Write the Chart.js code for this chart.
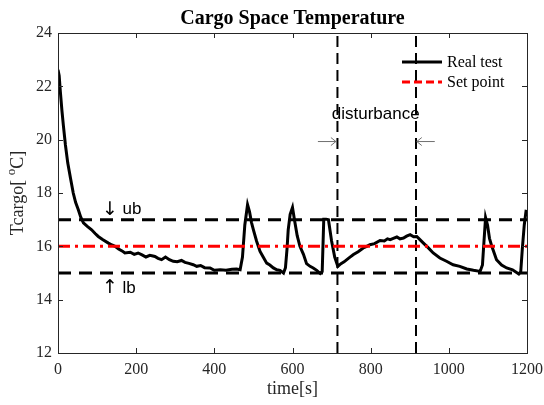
<!DOCTYPE html>
<html>
<head>
<meta charset="utf-8">
<script src="https://cdn.jsdelivr.net/npm/chart.js@4.4.1/dist/chart.umd.min.js"></script>
<style>
  html, body { margin: 0; padding: 0; background: #fff; }
  #wrap { width: 544px; height: 405px; }
</style>
</head>
<body>
<div id="wrap"><canvas id="cargo"></canvas></div>
<script>
var timeSec = [0, 3, 6, 10, 14, 19, 25, 32, 39, 45, 52, 58, 65, 75, 86, 95, 103, 115, 129, 138,
  146, 155, 165, 171, 185, 195, 205, 215, 225, 235, 248, 256, 265, 275, 285, 295, 305, 316, 325, 335,
  346, 355, 365, 375, 389, 400, 415, 430, 445, 457, 466, 472, 478, 485, 490, 495, 500, 508, 517, 525,
  534, 542, 551, 560, 568, 577, 582, 586, 589, 594, 600, 605, 612, 619, 628, 636, 645, 653, 662, 671,
  676, 680, 686, 692, 700, 708, 716, 724, 732, 743, 756, 768, 781, 790, 798, 810, 824, 835, 843, 850,
  858, 867, 875, 884, 892, 901, 910, 918, 926, 935, 947, 960, 977, 994, 1011, 1028, 1046, 1063, 1080, 1086,
  1090, 1094, 1099, 1104, 1110, 1116, 1122, 1135, 1148, 1163, 1179, 1184, 1188, 1193, 1198];
var tempC = [22.62, 22.4, 21.8, 21.1, 20.5, 19.8, 19.12, 18.55, 18.0, 17.65, 17.37, 17.1, 16.88, 16.75, 16.62, 16.48, 16.37, 16.25, 16.12, 16.05,
  16.0, 15.9, 15.82, 15.75, 15.78, 15.7, 15.75, 15.68, 15.6, 15.66, 15.62, 15.55, 15.5, 15.6, 15.5, 15.44, 15.42, 15.47, 15.4, 15.36,
  15.31, 15.25, 15.28, 15.2, 15.19, 15.1, 15.12, 15.1, 15.14, 15.15, 15.12, 15.6, 16.8, 17.56, 17.3, 16.9, 16.62, 16.2, 15.81, 15.6,
  15.37, 15.3, 15.19, 15.12, 15.1, 15.0, 15.2, 15.9, 16.62, 17.2, 17.46, 17.0, 16.4, 16.0, 15.7, 15.35, 15.25, 15.19, 15.1, 14.98,
  15.05, 17.02, 17.02, 17.0, 16.2, 15.6, 15.25, 15.35, 15.42, 15.55, 15.69, 15.8, 15.94, 16.0, 16.06, 16.1, 16.22, 16.2, 16.28, 16.25,
  16.3, 16.35, 16.28, 16.31, 16.38, 16.44, 16.36, 16.37, 16.25, 16.12, 15.95, 15.75, 15.56, 15.44, 15.31, 15.25, 15.15, 15.1, 15.06, 15.3,
  16.2, 17.08, 16.8, 16.3, 16.0, 15.75, 15.5, 15.3, 15.19, 15.12, 14.96, 15.05, 15.9, 16.8, 17.37];

var setPoint = 16;
var upperBound = 17;
var lowerBound = 15;
var disturbanceTimes = [715, 916];

var xMin = 0, xMax = 1200, xStep = 200;
var yMin = 12, yMax = 24, yStep = 2;

var serif = '"Liberation Serif", "Times New Roman", serif';
var sans = '"Liberation Sans", Arial, sans-serif';
var axisColor = '#262626';

function hLine(v) {
  return [{ x: xMin, y: v }, { x: xMax, y: v }];
}
function vLine(t) {
  return [{ x: t, y: yMin }, { x: t, y: yMax }];
}

var datasets = [
  {
    label: 'Real test',
    data: timeSec.map(function (t, i) { return { x: t, y: tempC[i] }; }),
    borderColor: '#000000',
    borderWidth: 3,
    order: 5
  },
  {
    label: 'Set point',
    data: hLine(setPoint),
    borderColor: '#ff0000',
    borderWidth: 3,
    borderDash: [12, 5, 3, 5],
    order: 1
  },
  { label: 'ub', data: hLine(upperBound), borderColor: '#000', borderWidth: 3, borderDash: [13, 8], order: 2 },
  { label: 'lb', data: hLine(lowerBound), borderColor: '#000', borderWidth: 3, borderDash: [13, 8], order: 2 }
];
disturbanceTimes.forEach(function (t) {
  datasets.push({ label: 'disturbance', data: vLine(t), borderColor: '#000', borderWidth: 2, borderDash: [11, 6], order: 3 });
});

// thin open arrow, dir = +1 right, -1 left
function arrow(c, x, y, len, dir) {
  var tip = x + dir * len / 2, tail = x - dir * len / 2;
  c.beginPath();
  c.moveTo(tail, y); c.lineTo(tip, y);
  c.moveTo(tip - dir * 5, y - 4); c.lineTo(tip, y); c.lineTo(tip - dir * 5, y + 4);
  c.stroke();
}

// box, inward ticks, titles, legend and notes (MATLAB look)
var matlabLook = {
  id: 'matlabLook',
  afterDraw: function (chart) {
    var c = chart.ctx, a = chart.chartArea;
    var xs = chart.scales.x, ys = chart.scales.y;
    c.save();
    c.strokeStyle = axisColor;
    c.lineWidth = 1;
    c.setLineDash([]);
    c.strokeRect(a.left + 0.5, a.top + 0.5, a.right - a.left, a.bottom - a.top);
    c.beginPath();
    for (var t = xMin; t <= xMax; t += xStep) {
      var px = Math.round(xs.getPixelForValue(t)) + 0.5;
      c.moveTo(px, a.bottom); c.lineTo(px, a.bottom - 5);
      c.moveTo(px, a.top); c.lineTo(px, a.top + 5);
    }
    for (var v = yMin; v <= yMax; v += yStep) {
      var py = Math.round(ys.getPixelForValue(v)) + 0.5;
      c.moveTo(a.left, py); c.lineTo(a.left + 5, py);
      c.moveTo(a.right, py); c.lineTo(a.right - 5, py);
    }
    c.stroke();

    // title
    c.fillStyle = '#000';
    c.textAlign = 'center';
    c.textBaseline = 'middle';
    c.font = 'bold 20px ' + serif;
    c.fillText('Cargo Space Temperature', (a.left + a.right) / 2, 19);

    // axis titles
    c.fillStyle = axisColor;
    c.font = '18px ' + serif;
    c.fillText('time[s]', (a.left + a.right) / 2, 389);

    c.save();
    c.translate(18, 193);
    c.rotate(-Math.PI / 2);
    var p1 = 'Tcargo[ ', p2 = 'o', p3 = 'C]';
    c.font = '18px ' + serif;
    var w1 = c.measureText(p1).width, w3 = c.measureText(p3).width;
    c.font = '13px ' + serif;
    var w2 = c.measureText(p2).width;
    var x0 = -(w1 + w2 + w3) / 2;
    c.textAlign = 'left';
    c.font = '18px ' + serif;
    c.fillText(p1, x0, 0);
    c.font = '13px ' + serif;
    c.fillText(p2, x0 + w1, -6);
    c.font = '18px ' + serif;
    c.fillText(p3, x0 + w1 + w2, 0);
    c.restore();

    // legend
    var legendY = [62, 82];
    [0, 1].forEach(function (i, k) {
      var ds = chart.data.datasets[i];
      c.strokeStyle = ds.borderColor;
      c.lineWidth = 3;
      c.setLineDash(i === 1 ? [8, 4] : []);
      c.beginPath();
      c.moveTo(402, legendY[k]); c.lineTo(442, legendY[k]);
      c.stroke();
      c.setLineDash([]);
      c.fillStyle = '#000';
      c.textAlign = 'left';
      c.font = '16px ' + serif;
      c.fillText(ds.label, 447, legendY[k] + 1);
    });

    // notes
    c.fillStyle = '#000';
    c.font = '17px ' + sans;
    c.textAlign = 'center';
    c.fillText('disturbance', xs.getPixelForValue(813), ys.getPixelForValue(20.94));
    c.strokeStyle = '#707070';
    c.lineWidth = 1;
    arrow(c, xs.getPixelForValue(688), ys.getPixelForValue(19.93), 18, 1);
    arrow(c, xs.getPixelForValue(941), ys.getPixelForValue(19.93), 18, -1);
    c.fillStyle = '#000';
    c.textAlign = 'left';
    c.font = '17px ' + sans;
    c.fillText('ub', xs.getPixelForValue(165), ys.getPixelForValue(17.37));
    c.fillText('lb', xs.getPixelForValue(165), ys.getPixelForValue(14.43));
    c.font = '19px "DejaVu Sans", sans-serif';
    c.textAlign = 'center';
    c.fillText('\u2193', xs.getPixelForValue(133), ys.getPixelForValue(17.37));
    c.fillText('\u2191', xs.getPixelForValue(133), ys.getPixelForValue(14.43));
    c.restore();
  }
};

new Chart(document.getElementById('cargo'), {
  type: 'line',
  data: { datasets: datasets },
  options: {
    responsive: true,
    maintainAspectRatio: false,
    animation: false,
    layout: { padding: { left: 0, right: 17, top: 33, bottom: 0 } },
    elements: { point: { radius: 0 }, line: { tension: 0, fill: false } },
    plugins: { legend: { display: false }, tooltip: { enabled: false } },
    scales: {
      x: {
        type: 'linear', min: xMin, max: xMax,
        ticks: {
          stepSize: xStep, color: axisColor, font: { family: serif, size: 16 }, padding: 7, maxRotation: 0,
          callback: function (v) { return String(v); }
        },
        grid: { display: false, drawTicks: false },
        border: { display: false },
        afterFit: function (s) { s.height = 52; s.paddingLeft = 0; s.paddingRight = 0; }
      },
      y: {
        min: yMin, max: yMax,
        ticks: { stepSize: yStep, color: axisColor, font: { family: serif, size: 16 }, padding: 6 },
        grid: { display: false, drawTicks: false },
        border: { display: false },
        afterFit: function (s) { s.width = 58; s.paddingTop = 0; s.paddingBottom = 0; }
      }
    }
  },
  plugins: [matlabLook]
});
</script>
</body>
</html>
